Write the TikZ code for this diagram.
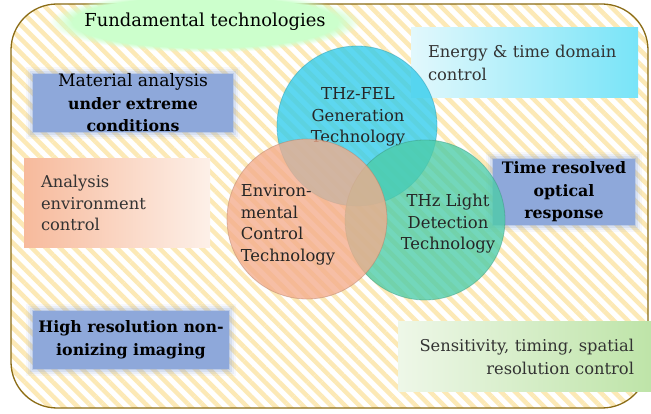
\documentclass[tikz,border=0pt]{standalone}
\usepackage{fontspec}
\setmainfont{DejaVu Serif}
\usetikzlibrary{positioning, patterns.meta, fadings}
\definecolor{framebrown}{RGB}{139,108,22}
\definecolor{stripeyellow}{RGB}{252,233,182}
\definecolor{boxblue}{RGB}{142,168,218}
\definecolor{felcyan}{RGB}{48,204,236}
\definecolor{envpeach}{RGB}{244,172,140}
\definecolor{detteal}{RGB}{76,204,168}
\definecolor{cyanleft}{RGB}{226,248,252}
\definecolor{cyanright}{RGB}{120,228,248}
\definecolor{peachleft}{RGB}{247,186,156}
\definecolor{peachright}{RGB}{253,240,232}
\definecolor{greenleft}{RGB}{238,247,232}
\definecolor{greenright}{RGB}{190,228,168}
\tikzset{
x=1pt, y=-1pt, % one unit is one pixel, y runs downwards
every node/.style={inner sep=0pt, outer sep=0pt},
tech/.style={circle, minimum size=160pt, draw=#1!70!black, draw opacity=0.4, thick, fill=#1, fill opacity=0.78}, % the three technology circles
techtext/.style={font=\fontsize{16.4}{21.5}\selectfont, text=black!85, align=center}, % text set inside a circle
infobox/.style={inner sep=17pt, font=\fontsize{16.3}{23}\selectfont, text=black!80}, % shaded boxes with plain text
goalbox/.style={fill=boxblue, align=center, font=\fontsize{15.8}{22.5}\selectfont\bfseries,
  preaction={draw=boxblue, line width=14pt, draw opacity=0.07},
  preaction={draw=boxblue, line width=10pt, draw opacity=0.12},
  preaction={draw=boxblue, line width=6pt, draw opacity=0.2},
  preaction={draw=boxblue, line width=2.5pt, draw opacity=0.35}}, % blurred blue boxes
}

\begin{document}
\begin{tikzpicture}
  \useasboundingbox (0,0) rectangle (651,414);
  % frame with the stripes
  \fill[white] (0,0) rectangle (651,414);
  \path[pattern={Lines[angle=-45, distance=10pt, line width=4.5pt]}, pattern color=stripeyellow, rounded corners=46pt] (11,4) rectangle (648,408);
  \draw[framebrown, line width=1.3pt, rounded corners=46pt] (11,4) rectangle (648,408);

  % title with its glow
  \fill[green!20!white, path fading=circle with fuzzy edge 15 percent] (50,-8) rectangle (360,52);
  \node[font=\fontsize{17.9}{21}\selectfont] (title) at (205,22) {Fundamental technologies};

  % side boxes
  \node[infobox, left color=cyanleft, right color=cyanright, minimum width=227pt, minimum height=70pt, text width=193pt, align=left] (energy) at (524.5,63) {Energy \& time domain\\control};
  \node[goalbox, minimum width=200pt, minimum height=55pt] (material) at (133,103) {{\mdseries\fontsize{17.2}{22.5}\selectfont Material analysis}\\under extreme\\conditions};
  \node[infobox, left color=peachleft, right color=peachright, minimum width=186pt, minimum height=76pt, text width=152pt, align=left, font=\fontsize{16.3}{21.5}\selectfont] (environment) at (117,203) {Analysis\\environment\\control};
  \node[goalbox, minimum width=142pt, minimum height=66pt] (timeres) at (564,192) {Time resolved\\optical\\response};
  \node[goalbox, minimum width=196pt, minimum height=58pt] (imaging) at (131,340) {High resolution non-\\ionizing imaging};
  \node[infobox, left color=greenleft, right color=greenright, minimum width=253pt, minimum height=67pt, text width=219pt, align=right] (sensitivity) at (524.5,356.5) {Sensitivity, timing, spatial\\resolution control};

  % the three circles
  \node[tech=felcyan] (fel) at (357,126) {};
  \node[techtext] (feltext) at (358,117) {THz-FEL\\Generation\\Technology};
  \node[tech=detteal] (det) at (425,220) {};
  \node[techtext] (dettext) at (448,224) {THz Light\\Detection\\Technology};
  \node[tech=envpeach] (env) at (307,219) {};
  \node[techtext, align=left] (envtext) at (288,225) {Environ-\\mental\\Control\\Technology};
\end{tikzpicture}
\end{document}
